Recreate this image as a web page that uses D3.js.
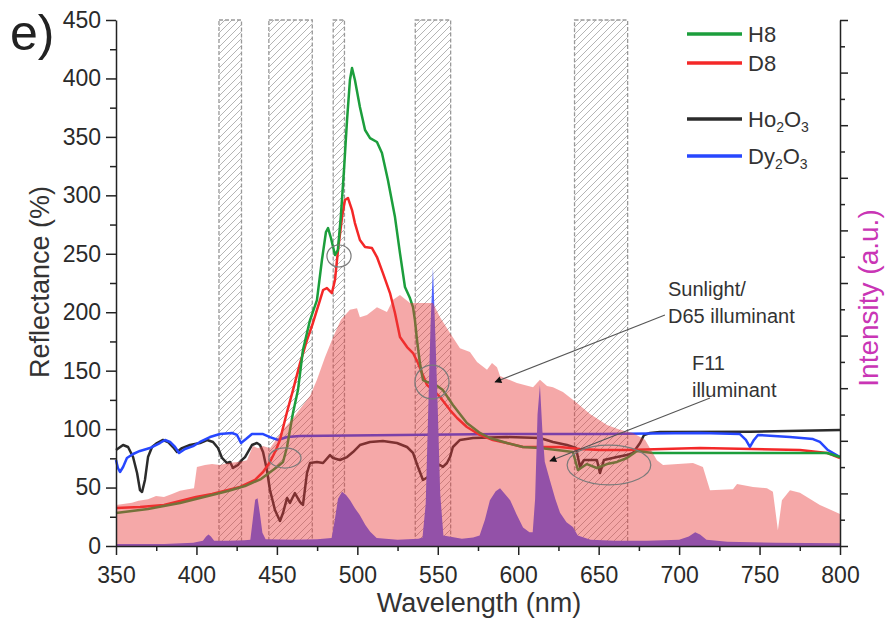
<!DOCTYPE html>
<html>
<head>
<meta charset="utf-8">
<script src="https://cdn.jsdelivr.net/npm/d3@7"></script>
<style>
  body { margin: 0; background: #fff; }
  svg { display: block; font-family: "Liberation Sans", Arial, Helvetica, sans-serif; }
</style>
</head>
<body>
<svg id="chart" width="885" height="623"></svg>
<script>
// ---- Reflectance spectra (wavelength nm, reflectance %) ----
const h8 = [[350.0,28.2],[359.9,29.9],[369.9,31.7],[379.8,34.2],[389.8,36.8],[399.7,40.2],[409.7,43.6],[419.6,47.0],[430.2,51.3],[440.1,57.3],[445.1,62.4],[450.1,67.6],[453.8,71.9],[456.3,84.7],[460.0,113.8],[463.1,133.4],[466.2,167.7],[470.6,193.3],[474.9,210.4],[478.0,244.7],[480.5,268.6],[481.8,272.0],[483.6,263.5],[486.1,248.9],[487.9,253.2],[489.8,283.1],[491.7,321.6],[493.6,364.4],[495.4,398.6],[496.7,408.9],[498.5,398.6],[501.6,375.5],[504.8,355.9],[507.9,349.0],[512.2,345.6],[515.3,336.2],[519.0,313.1],[523.4,281.4],[526.5,250.6],[529.6,221.6],[532.7,212.1],[534.6,204.4],[535.8,193.3],[537.1,176.2],[538.9,156.5],[540.8,142.0],[543.9,140.0],[547.0,139.4],[553.2,133.4],[559.4,120.6],[568.1,105.2],[576.2,96.7],[582.4,92.4],[593.0,88.1],[602.9,84.7],[613.5,83.8],[624.1,82.1],[634.0,80.4],[637.1,65.0],[642.7,70.1],[648.9,66.7],[655.2,70.1],[661.4,71.9],[667.6,75.3],[673.8,81.3],[683.7,79.6],[712.9,79.6],[744.0,79.6],[775.1,79.6],[791.9,79.6],[800.0,76.1]];

const d8 = [[350.0,32.5],[364.9,33.4],[379.8,35.1],[389.8,38.5],[399.7,41.9],[409.7,44.5],[419.6,47.9],[427.1,50.5],[436.4,56.5],[441.4,63.3],[445.7,71.9],[449.4,82.1],[451.9,90.7],[456.3,114.6],[460.0,133.4],[464.4,156.5],[468.7,176.2],[472.4,190.8],[476.8,210.4],[478.7,219.0],[481.1,220.7],[484.2,216.4],[486.1,227.5],[488.0,253.2],[490.5,281.4],[492.3,296.0],[494.2,297.7],[496.7,287.4],[498.5,276.3],[501.6,261.8],[504.8,255.8],[509.1,254.9],[512.2,247.2],[515.9,233.5],[520.3,216.4],[523.4,199.3],[526.5,178.8],[530.9,170.2],[534.6,165.1],[537.7,156.5],[540.2,148.0],[543.3,137.7],[547.0,133.4],[551.4,127.5],[557.6,116.3],[562.0,109.5],[568.1,101.8],[576.2,95.0],[584.3,90.7],[593.0,88.1],[602.9,84.7],[613.5,84.7],[625.9,84.7],[638.4,83.0],[650.8,82.1],[667.6,82.1],[713.0,83.8],[775.1,82.1],[791.9,79.6],[800.0,75.3]];

const ho2o3 = [[350.0,82.1],[354.4,86.4],[357.5,84.7],[360.6,76.1],[363.1,62.4],[364.9,47.9],[366.2,46.2],[368.0,56.5],[369.9,76.1],[372.4,84.7],[375.5,88.1],[379.2,90.7],[382.3,89.0],[385.4,84.7],[387.9,80.4],[391.0,83.8],[396.0,86.4],[402.2,88.1],[406.6,90.7],[410.3,89.0],[413.4,83.8],[415.9,75.3],[419.0,71.0],[420.9,71.9],[422.7,66.7],[425.8,69.3],[428.3,73.6],[430.2,76.1],[432.0,80.4],[434.5,86.4],[437.6,88.1],[439.5,86.4],[441.4,80.4],[443.8,65.0],[445.7,47.9],[448.8,30.8],[451.9,21.4],[453.8,28.2],[456.3,41.1],[458.1,36.8],[461.2,45.3],[464.4,37.6],[466.2,35.1],[468.7,62.4],[470.6,71.0],[474.9,71.9],[478.7,71.0],[483.0,77.8],[484.9,75.3],[489.2,73.6],[493.6,76.1],[497.3,80.4],[501.6,86.4],[507.9,89.0],[515.9,89.8],[524.6,88.1],[530.9,84.7],[534.6,79.6],[537.7,67.6],[540.8,56.5],[543.9,59.0],[547.0,66.7],[551.4,69.3],[553.2,67.6],[555.7,71.0],[557.6,76.1],[559.4,84.7],[563.8,90.7],[571.9,92.4],[593.0,93.2],[613.5,92.4],[621.6,89.0],[630.3,86.4],[635.9,83.8],[638.4,67.6],[640.9,73.6],[648.9,73.6],[650.8,62.4],[653.3,73.6],[661.4,76.1],[667.6,77.8],[671.3,79.6],[675.7,88.1],[678.2,95.0],[681.9,96.7],[688.1,97.5],[744.0,97.8],[800.0,99.2]];

const dy2o3 = [[350.0,73.6],[351.2,66.7],[352.5,63.3],[354.4,67.6],[356.8,75.3],[360.6,78.7],[364.9,81.3],[371.1,83.8],[377.3,88.1],[380.5,90.7],[383.6,89.0],[386.7,84.7],[389.2,79.6],[392.9,83.0],[397.9,85.5],[402.2,89.0],[408.4,93.2],[414.6,95.8],[422.1,96.7],[425.2,95.0],[427.7,88.1],[430.8,91.5],[434.5,95.8],[441.4,95.8],[445.7,93.2],[450.7,90.7],[456.3,93.2],[464.4,94.1],[526.5,95.0],[588.7,95.8],[650.8,95.8],[713.0,96.7],[737.8,95.8],[741.5,90.7],[744.0,84.7],[746.5,90.7],[749.0,95.0],[768.9,93.2],[783.2,91.5],[787.5,89.0],[792.5,82.1],[800.0,76.1]];

// ---- Illuminant spectra (wavelength nm, relative intensity a.u.) ----
const d65 = [[350.0,0.078],[359.9,0.082],[364.0,0.086],[369.9,0.089],[374.9,0.095],[379.8,0.093],[384.8,0.099],[389.8,0.105],[394.7,0.108],[398.5,0.110],[400.3,0.150],[405.3,0.154],[409.7,0.156],[414.6,0.154],[419.6,0.158],[427.1,0.160],[431.4,0.163],[435.1,0.190],[438.3,0.186],[441.4,0.190],[445.7,0.186],[453.8,0.221],[460.0,0.243],[466.2,0.268],[470.6,0.285],[474.9,0.316],[479.9,0.359],[484.9,0.397],[489.8,0.430],[495.4,0.449],[499.8,0.452],[501.6,0.435],[506.0,0.439],[512.2,0.454],[518.4,0.445],[522.2,0.468],[526.5,0.477],[532.7,0.462],[540.8,0.462],[547.0,0.462],[551.4,0.435],[557.6,0.405],[563.8,0.376],[570.0,0.369],[574.4,0.350],[580.6,0.335],[583.7,0.348],[586.8,0.340],[588.7,0.323],[599.2,0.310],[609.2,0.302],[613.5,0.316],[617.9,0.304],[621.6,0.302],[627.8,0.293],[636.5,0.272],[644.6,0.251],[655.2,0.230],[663.2,0.221],[671.3,0.215],[678.8,0.202],[686.2,0.163],[690.0,0.154],[708.6,0.158],[714.8,0.150],[719.2,0.106],[733.5,0.108],[736.0,0.118],[745.9,0.112],[754.6,0.110],[758.3,0.103],[761.4,0.030],[763.9,0.087],[768.9,0.106],[775.1,0.101],[787.5,0.078],[800.0,0.061]];

const f11 = [[350,0.004],[380,0.004],[398,0.006],[404,0.010],[406,0.018],[407.5,0.022],[409,0.018],[411,0.010],[420,0.010],[430,0.011],[433.5,0.012],[435,0.050],[436.5,0.088],[438,0.091],[439.5,0.060],[441,0.025],[443,0.013],[460,0.012],[475,0.013],[484,0.015],[486,0.050],[488,0.090],[490.5,0.103],[493,0.097],[495.5,0.087],[498.5,0.072],[501.5,0.059],[505,0.040],[508,0.027],[512,0.015],[525,0.012],[538,0.014],[540.5,0.016],[542.5,0.080],[544,0.250],[545.5,0.420],[547,0.529],[548.5,0.400],[550,0.260],[551.5,0.100],[553.5,0.020],[565,0.014],[572,0.016],[576,0.020],[579.3,0.050],[582.4,0.087],[586,0.104],[588.7,0.110],[592,0.098],[595,0.087],[599,0.060],[603,0.035],[607,0.026],[609,0.026],[610.5,0.090],[612,0.250],[613.5,0.306],[615,0.220],[616.5,0.160],[619.7,0.125],[623,0.090],[626,0.063],[630,0.045],[634,0.036],[637,0.020],[645,0.012],[660,0.010],[680,0.010],[700,0.012],[706,0.018],[710,0.026],[713,0.022],[717,0.012],[730,0.008],[760,0.006],[800,0.005]];

// ---- Shaded wavelength bands (nm) ----
const bands = [[414, 428], [445, 472], [485, 492], [536, 558], [635, 668]];

// ---- Ticks ----
const xMajor = [350, 400, 450, 500, 550, 600, 650, 700, 750, 800];
const xMinor = [375, 425, 475, 525, 575, 625, 675, 725, 775];
const yMajor = [0, 50, 100, 150, 200, 250, 300, 350, 400, 450];
const yMinor = [25, 75, 125, 175, 225, 275, 325, 375, 425];
const iMajor = [0, 0.1, 0.2, 0.3, 0.4, 0.5, 0.6, 0.7, 0.8, 0.9, 1.0];
const iMinor = [0.05, 0.15, 0.25, 0.35, 0.45, 0.55, 0.65, 0.75, 0.85, 0.95];

// ---- Series styling / legend ----
const series = [
  { key: "Ho2O3", data: ho2o3, color: "#2b2b2b", label: ["Ho", "2", "O", "3"] },
  { key: "Dy2O3", data: dy2o3, color: "#2747ff", label: ["Dy", "2", "O", "3"] },
  { key: "D8", data: d8, color: "#f42828", label: ["D8"] },
  { key: "H8", data: h8, color: "#1c9e3c", label: ["H8"] }
];
const legendOrder = ["H8", "D8", "Ho2O3", "Dy2O3"];

// ---- Highlight ellipses (centre nm, centre %, half-width nm, half-height %) ----
const ellipses = [[488.6, 248.1, 7.5, 9.4], [455.0, 75.3, 10, 8.6], [546.4, 140.3, 10.6, 14.5], [656.4, 69.3, 26, 17]];

// ---- Callouts (text anchor in nm/% and arrow from -> to) ----
const callouts = [
  { lines: ["Sunlight/", "D65 illuminant"], at: [693.1, 213.9], lineGap: 27, from: [691.2, 197.6], to: [585.6, 140.3] },
  { lines: ["F11", "illuminant"], at: [708.0, 150.6], lineGap: 27, from: [719.2, 126.6], to: [619.7, 72.7] }
];

const svg = d3.select("#chart");

const x = d3.scaleLinear().domain([350, 800]).range([116, 840]);
const y = d3.scaleLinear().domain([0, 450]).range([546, 20]);
const yI = d3.scaleLinear().domain([0, 1]).range([546, 20]);

const defs = svg.append("defs");
const hatch = defs.append("pattern")
  .attr("id", "hatch").attr("patternUnits", "userSpaceOnUse")
  .attr("width", 7).attr("height", 7);
hatch.append("path")
  .attr("d", "M-1,1 l2,-2 M0,7 l7,-7 M6,8 l2,-2")
  .attr("stroke", "#b4b4b4").attr("stroke-width", 1);

defs.append("marker")
  .attr("id", "arrow").attr("viewBox", "0 0 10 10")
  .attr("refX", 9).attr("refY", 5)
  .attr("markerWidth", 9).attr("markerHeight", 7)
  .attr("markerUnits", "userSpaceOnUse")
  .attr("orient", "auto")
  .append("path").attr("d", "M0,0 L10,5 L0,10 Z").attr("fill", "#111");

// Hatched bands
svg.append("g").selectAll("rect").data(bands).join("rect")
  .attr("x", d => x(d[0])).attr("width", d => x(d[1]) - x(d[0]))
  .attr("y", y(450)).attr("height", y(0) - y(450))
  .attr("fill", "url(#hatch)")
  .attr("stroke", "#999").attr("stroke-width", 1.3)
  .attr("stroke-dasharray", "4,2");

// Reflectance curves
const line = d3.line().x(d => x(d[0])).y(d => y(d[1]));
svg.append("g").selectAll("path").data(series).join("path")
  .attr("d", d => line(d.data))
  .attr("fill", "none").attr("stroke", d => d.color)
  .attr("stroke-width", 2.5).attr("stroke-linejoin", "round");

// Illuminants: F11 underneath, translucent D65 on top
const areaI = d3.area().x(d => x(d[0])).y0(yI(0)).y1(d => yI(d[1]));
svg.append("path").attr("d", areaI(f11)).attr("fill", "rgb(80,100,255)");
svg.append("path").attr("d", areaI(d65)).attr("fill", "rgb(232,58,58)").attr("fill-opacity", 0.44);

// Highlight ellipses
svg.append("g").selectAll("ellipse").data(ellipses).join("ellipse")
  .attr("cx", d => x(d[0])).attr("cy", d => y(d[1]))
  .attr("rx", d => x(d[0] + d[2]) - x(d[0]))
  .attr("ry", d => y(d[1] - d[3]) - y(d[1]))
  .attr("fill", "none").attr("stroke", "#7a7a7a").attr("stroke-width", 1.2);

// Callouts
const cg = svg.append("g");
callouts.forEach(c => {
  cg.append("line")
    .attr("x1", x(c.from[0])).attr("y1", y(c.from[1]))
    .attr("x2", x(c.to[0])).attr("y2", y(c.to[1]))
    .attr("stroke", "#555").attr("stroke-width", 1.1)
    .attr("marker-end", "url(#arrow)");
  c.lines.forEach((t, i) => {
    cg.append("text")
      .attr("x", x(c.at[0])).attr("y", y(c.at[1]) + i * c.lineGap)
      .attr("font-size", 20).attr("fill", "#333").text(t);
  });
});

// Axes
function styleAxis(g) {
  g.selectAll("path.domain").attr("stroke", "#222").attr("stroke-width", 1.5);
  g.selectAll(".tick line").attr("stroke", "#222").attr("stroke-width", 1.5);
  g.selectAll(".tick text").attr("fill", "#2a2a2a").attr("font-size", 23)
    .attr("font-family", "\"Liberation Sans\", Arial, sans-serif");
}
const bottom = svg.append("g").attr("transform", `translate(0,${y(0)})`)
  .call(d3.axisBottom(x).tickValues(xMajor).tickSize(9).tickPadding(12).tickSizeOuter(0).tickFormat(d3.format("d")));
styleAxis(bottom);
const bottomMinor = svg.append("g").attr("transform", `translate(0,${y(0)})`)
  .call(d3.axisBottom(x).tickValues(xMinor).tickSize(5).tickFormat(""));
bottomMinor.select("path.domain").remove();
styleAxis(bottomMinor);

const left = svg.append("g").attr("transform", `translate(${x(350)},0)`)
  .call(d3.axisLeft(y).tickValues(yMajor).tickSize(10).tickPadding(5).tickSizeOuter(0).tickFormat(d3.format("d")));
styleAxis(left);
const leftMinor = svg.append("g").attr("transform", `translate(${x(350)},0)`)
  .call(d3.axisLeft(y).tickValues(yMinor).tickSize(6).tickFormat(""));
leftMinor.select("path.domain").remove();
styleAxis(leftMinor);

const right = svg.append("g").attr("transform", `translate(${x(800)},0)`)
  .call(d3.axisRight(yI).tickValues(iMajor).tickSize(8).tickSizeOuter(0).tickFormat(""));
styleAxis(right);
const rightMinor = svg.append("g").attr("transform", `translate(${x(800)},0)`)
  .call(d3.axisRight(yI).tickValues(iMinor).tickSize(5).tickFormat(""));
rightMinor.select("path.domain").remove();
styleAxis(rightMinor);

// Axis titles
svg.append("text").attr("transform", "translate(49,282) rotate(-90)")
  .attr("text-anchor", "middle").attr("font-size", 27).attr("fill", "#333")
  .text("Reflectance (%)");
svg.append("text").attr("x", 479).attr("y", 612)
  .attr("text-anchor", "middle").attr("font-size", 27).attr("fill", "#333")
  .text("Wavelength (nm)");
svg.append("text").attr("transform", "translate(878,298) rotate(-90)")
  .attr("text-anchor", "middle").attr("font-size", 28).attr("fill", "#c935b5")
  .text("Intensity (a.u.)");

// Panel label
svg.append("text").attr("x", 10).attr("y", 50)
  .attr("font-size", 50).attr("fill", "#222").text("e)");

// Legend
const legendY = { H8: 34, D8: 63, Ho2O3: 119, Dy2O3: 156 };
const lg = svg.append("g");
legendOrder.forEach(k => {
  const s = series.find(d => d.key === k);
  const ly = legendY[k];
  lg.append("line").attr("x1", 687).attr("x2", 742).attr("y1", ly).attr("y2", ly)
    .attr("stroke", s.color).attr("stroke-width", 3.5);
  const t = lg.append("text").attr("x", 748).attr("y", ly + 8)
    .attr("font-size", 22).attr("fill", "#333");
  s.label.forEach((part, i) => {
    const sub = i % 2 === 1;
    t.append("tspan").text(part)
      .attr("font-size", sub ? 14 : 22)
      .attr("dy", sub ? 5 : (i > 0 ? -5 : 0));
  });
});
</script>
</body>
</html>
